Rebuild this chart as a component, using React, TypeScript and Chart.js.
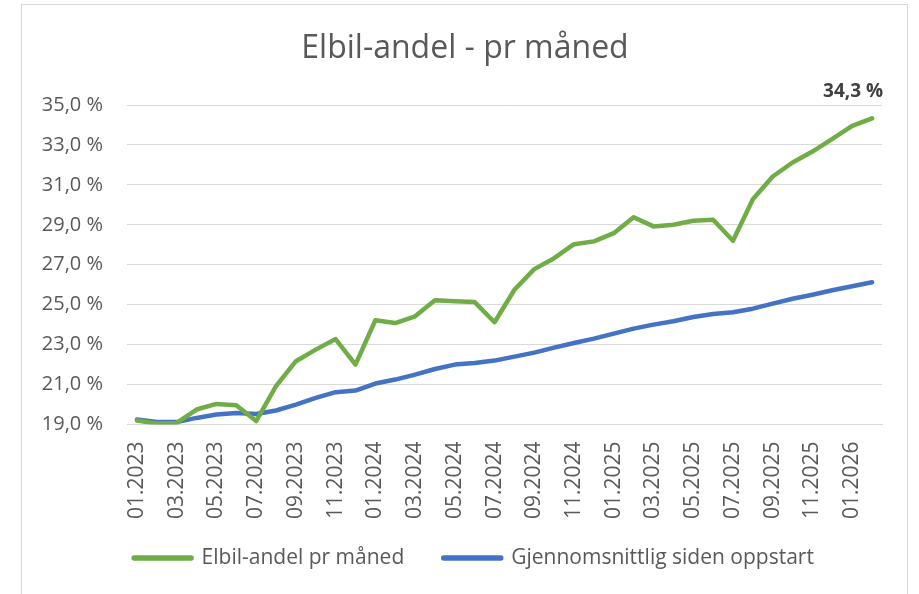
import React, { useEffect, useRef } from "react";
import { Chart, registerables } from "chart.js";

Chart.register(...registerables);

const months = [
  "01.2023", "02.2023", "03.2023", "04.2023", "05.2023", "06.2023", "07.2023", "08.2023", "09.2023", "10.2023", "11.2023", "12.2023",
  "01.2024", "02.2024", "03.2024", "04.2024", "05.2024", "06.2024", "07.2024", "08.2024", "09.2024", "10.2024", "11.2024", "12.2024",
  "01.2025", "02.2025", "03.2025", "04.2025", "05.2025", "06.2025", "07.2025", "08.2025", "09.2025", "10.2025", "11.2025", "12.2025",
  "01.2026", "02.2026",
];

const elbilAndel = [
  19.2, 19.05, 19.08, 19.75, 20.03, 19.97, 19.17, 20.92, 22.17, 22.75, 23.28, 22.0,
  24.22, 24.08, 24.42, 25.22, 25.17, 25.13, 24.12, 25.75, 26.78, 27.33, 28.03, 28.17,
  28.58, 29.38, 28.92, 29.0, 29.2, 29.25, 28.2, 30.28, 31.42, 32.12, 32.67, 33.3,
  33.95, 34.33,
];

const gjennomsnitt = [
  19.25, 19.13, 19.12, 19.33, 19.5, 19.58, 19.53, 19.7, 20.0, 20.33, 20.62, 20.7,
  21.05, 21.25, 21.5, 21.78, 22.0, 22.08, 22.2, 22.4, 22.6, 22.85, 23.08, 23.3,
  23.55, 23.8, 24.0, 24.17, 24.38, 24.53, 24.62, 24.8, 25.05, 25.3, 25.5, 25.72,
  25.92, 26.12,
];

const seriesNames = ["Elbil-andel pr måned", "Gjennomsnittlig siden oppstart"];
const titleText = "Elbil-andel - pr måned";
const yMin = 19;
const yMax = 35;
const yStep = 2;

const GREEN = "#70AD47";
const BLUE = "#4472C4";
const TEXT = "#595959";
const GRID = "#D9D9D9";
const FONT = "'Open Sans', 'Noto Sans', sans-serif";

const fmtPct = (v: number) => v.toFixed(1).replace(".", ",") + " %";

const lastLabelPlugin = {
  id: "lastLabel",
  afterDatasetsDraw(chart: any) {
    const meta = chart.getDatasetMeta(0);
    const data = chart.data.datasets[0].data as number[];
    const i = data.length - 1;
    const pt = meta.data[i];
    if (!pt) return;
    const ctx = chart.ctx;
    ctx.save();
    ctx.font = `bold 19px ${FONT}`;
    ctx.fillStyle = "#404040";
    ctx.textAlign = "center";
    ctx.textBaseline = "middle";
    ctx.fillText(fmtPct(data[i]), pt.x - 19, pt.y - 27);
    ctx.restore();
  },
};

// nudges the legend block so it sits where the reference has it
const legendNudge = {
  id: "legendNudge",
  afterLayout(chart: any) {
    const lg = chart.legend;
    if (!lg) return;
    lg.top -= 11.5;
    lg.bottom -= 11.5;
    lg.left += 9;
    lg.right += 9;
  },
};

export default function App() {
  const ref = useRef<HTMLCanvasElement | null>(null);

  useEffect(() => {
    if (!ref.current) return;
    const chart = new Chart(ref.current, {
      type: "line",
      data: {
        labels: months,
        datasets: [
          {
            label: seriesNames[0],
            data: elbilAndel,
            borderColor: GREEN,
            backgroundColor: GREEN,
            borderWidth: 4.5,
            pointRadius: 0,
            borderCapStyle: "round",
            borderJoinStyle: "round",
            tension: 0,
          },
          {
            label: seriesNames[1],
            data: gjennomsnitt,
            borderColor: BLUE,
            backgroundColor: BLUE,
            borderWidth: 4.5,
            pointRadius: 0,
            borderCapStyle: "round",
            borderJoinStyle: "round",
            tension: 0,
          },
        ],
      },
      options: {
        responsive: false,
        animation: false,
        layout: { padding: { left: 22, right: 11, top: 0, bottom: 4 } },
        plugins: {
          title: {
            display: true,
            text: titleText,
            color: TEXT,
            font: { family: FONT, size: 32, weight: "normal" },
            padding: { top: 30, bottom: 36.6 },
          },
          legend: {
            position: "bottom",
            labels: {
              usePointStyle: true,
              pointStyle: "line",
              pointStyleWidth: 57,
              padding: 39.5,
              color: TEXT,
              font: { family: FONT, size: 21 },
              generateLabels(chart: any) {
                const items = Chart.defaults.plugins.legend.labels.generateLabels(chart);
                return items.map((it: any) => ({ ...it, lineWidth: 5.5, lineCap: "round" }));
              },
            },
          },
          tooltip: { enabled: false },
        },
        scales: {
          x: {
            type: "category",
            offset: true,
            grid: { display: false, drawTicks: false, tickLength: 0 },
            border: { display: true, color: GRID, width: 1 },
            ticks: {
              autoSkip: false,
              minRotation: 90,
              maxRotation: 90,
              padding: 17,
              color: TEXT,
              font: { family: FONT, size: 21 },
              callback: (_v: any, i: number) => (i % 2 === 0 ? months[i] : ""),
            },
            afterFit: (s: any) => {
              s.height = 95;
            },
          },
          y: {
            min: yMin,
            max: yMax,
            grid: { color: GRID, lineWidth: 1, drawTicks: false, tickLength: 0 },
            border: { display: false },
            ticks: {
              stepSize: yStep,
              padding: 24,
              color: TEXT,
              font: { family: FONT, size: 20 },
              callback: (v: any) => fmtPct(Number(v)),
            },
            afterFit: (s: any) => {
              s.width = 105;
            },
          },
          yRight: {
            position: "right",
            display: true,
            min: yMin,
            max: yMax,
            grid: { display: false, drawTicks: false },
            border: { display: false },
            ticks: { display: false },
            afterFit: (s: any) => {
              s.width = 26;
            },
          },
        },
      },
      plugins: [lastLabelPlugin, legendNudge],
    });
    return () => chart.destroy();
  }, []);

  return (
    <div
      style={{
        position: "fixed",
        left: 0,
        top: 0,
        width: 919,
        height: 594,
        overflow: "hidden",
        background: "#ffffff",
      }}
    >
      <div
        style={{
          position: "absolute",
          left: 21,
          top: 4,
          width: 887,
          height: 620,
          border: "1.5px solid #D9D9D9",
          boxSizing: "border-box",
        }}
      />
      <canvas ref={ref} width={919} height={594} style={{ position: "absolute", left: 0, top: 0, display: "block" }} />
    </div>
  );
}
